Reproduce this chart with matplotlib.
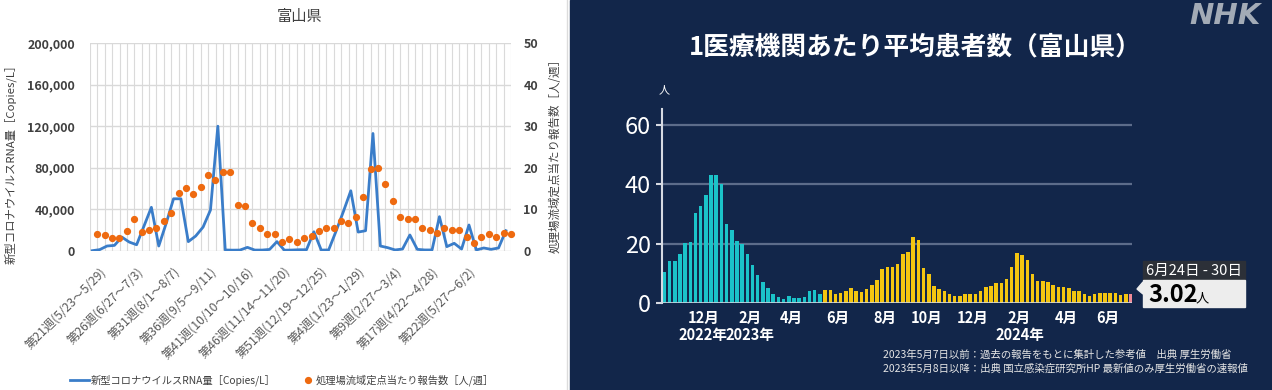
import numpy as np
import pandas as pd
import matplotlib.pyplot as plt
from matplotlib.patches import Rectangle, Polygon

plt.rcParams['font.family'] = ['Noto Sans CJK JP', 'DejaVu Sans']

# ---- left chart: wastewater RNA vs reports per sentinel (weekly) ----
week_labels = ['第21週(5/23～5/29)', '第26週(6/27～7/3)', '第31週(8/1～8/7)',
               '第36週(9/5～9/11)', '第41週(10/10～10/16)', '第46週(11/14～11/20)',
               '第51週(12/19～12/25)', '第4週(1/23～1/29)', '第9週(2/27～3/4)',
               '第17週(4/22～4/28)', '第22週(5/27～6/2)']
rna = [300, 1300, 4800, 5400, 13400, 8600, 6000, 24000, 42000, 4800,
       26500, 50200, 50200, 9000, 14400, 23000, 39400, 120000, 1000, 800,
       900, 3500, 900, 900, 1500, 9000, 800, 900, 1200, 1200,
       18500, 900, 1000, 19000, 38000, 57900, 18200, 19500, 113000, 4800,
       3200, 1000, 1900, 15400, 1600, 1000, 1000, 33000, 4200, 7400,
       1900, 25000, 1000, 2900, 1600, 2900, 19500]
reports = [4.16, 3.92, 3.12, 3.2, 4.8, 7.6, 4.48, 4.96, 5.6, 7.12,
           9.12, 13.84, 15.2, 13.76, 15.5, 18.2, 17.1, 18.96, 18.9, 11.04,
           10.72, 6.8, 5.52, 4.16, 4.16, 2.24, 2.8, 2.16, 3.04, 3.6,
           4.8, 5.52, 5.52, 7.12, 6.8, 8.24, 13.04, 19.6, 20.0, 16.16,
           12.08, 8.08, 7.76, 7.68, 5.6, 5.04, 4.32, 5.52, 5.12, 4.96,
           3.36, 1.84, 3.36, 4.16, 3.44, 4.24, 4.08]

# ---- right chart: patients per medical institution (NHK) ----
week_start = pd.date_range('2022-10-03', '2024-06-24', freq='7D')
patients = [10.3, 14.1, 14.0, 16.4, 20.3, 20.6, 30.2, 32.7, 36.4, 43.2,
            43.3, 40.1, 26.7, 24.7, 20.9, 19.9, 16.6, 12.7, 9.6, 7.2,
            4.9, 3.2, 2.1, 1.3, 2.3, 1.7, 1.7, 2.1, 4.1, 4.5,
            3.2, 4.4, 4.4, 2.9, 3.5, 4.2, 5.0, 4.2, 3.8, 4.8,
            6.1, 7.9, 11.6, 12.0, 12.2, 13.2, 16.6, 17.2, 22.2, 21.1,
            11.8, 9.9, 5.8, 4.6, 4.0, 3.2, 2.3, 2.3, 2.9, 2.9,
            3.2, 4.0, 5.5, 5.7, 6.6, 6.7, 8.0, 12.0, 16.9, 16.2,
            14.4, 9.7, 7.4, 7.4, 7.0, 6.0, 5.3, 5.5, 5.0, 4.1,
            4.0, 3.2, 2.3, 3.0, 3.4, 3.4, 3.4, 3.4, 2.8, 3.2, 3.02]
month_ticks = pd.date_range('2022-12-01', '2024-06-01', freq='2MS')
new_system = pd.Timestamp('2023-05-08')

W, H = 1272, 390
fig = plt.figure(figsize=(W / 100, H / 100), dpi=100)


def box(l, t, r, b):
    return [l / W, 1 - b / H, (r - l) / W, (b - t) / H]


# canvas in pixel coordinates for backgrounds and free text
cv = fig.add_axes([0, 0, 1, 1])
cv.set_xlim(0, W)
cv.set_ylim(H, 0)
cv.axis('off')
navy = '#12264A'
cv.add_patch(Rectangle((570, 0), W - 570, H, color=navy, zorder=0))
cv.plot([567, 567], [0, H], color='#dcdcdc', lw=1)

# ---------- left chart ----------
blue = '#3A7DC9'
orange = '#EE6A10'
ax = fig.add_axes(box(90, 43, 511, 251))
x = np.arange(len(rna))
for g in np.arange(len(rna) + 1) - 0.31:
    ax.axvline(g, color='#dadada', lw=0.8, zorder=0)
ax.plot(x, rna, color=blue, lw=2.0, zorder=3)
ax.set_xlim(-0.31, len(rna) - 0.31)
ax.set_ylim(0, 200000)
ax.set_yticks(range(0, 200001, 40000))
ax.set_yticklabels([f'{v:,}' for v in range(0, 200001, 40000)],
                   fontsize=9, color='#404040', fontweight='bold')
ax.yaxis.grid(True, color='#d9d9d9', lw=1)
ax.set_axisbelow(True)
ax.set_xticks(np.arange(0, len(week_labels) * 5, 5) + 2.2)
ax.set_xticklabels(week_labels, rotation=45, ha='right', fontsize=8.8, color='#595959')
ax.tick_params(axis='x', length=0, pad=10)
ax.tick_params(axis='y', length=0, pad=11)
for s in ax.spines.values():
    s.set_visible(False)
ax.set_ylabel('新型コロナウイルスRNA量［Copies/L］', fontsize=8.2, color='#404040')
ax.yaxis.set_label_coords(-0.175, 0.43)

ax2 = ax.twinx()
ax2.plot(x + 0.68, reports, 'o', color=orange, ms=4.2, clip_on=False, zorder=4)
ax2.set_ylim(0, 50)
ax2.set_yticks(range(0, 51, 10))
ax2.set_yticklabels([str(v) for v in range(0, 51, 10)], fontsize=9, color='#404040',
                    fontweight='bold')
ax2.tick_params(axis='y', length=0, pad=9)
for s in ax2.spines.values():
    s.set_visible(False)
ax2.set_ylabel('処理場流域定点当たり報告数［人/週］', fontsize=8.3, color='#404040')
ax2.yaxis.set_label_coords(1.09, 0.47)

cv.text(300, 17, '富山県', ha='center', va='center', fontsize=11, color='#404040')
cv.plot([70, 89], [380, 380], color=blue, lw=2.0)
cv.text(91, 380, '新型コロナウイルスRNA量［Copies/L］', va='center', fontsize=7.4, color='#404040')
cv.plot([308], [380], 'o', color=orange, ms=4.2)
cv.text(316, 380, '処理場流域定点当たり報告数［人/週］', va='center', fontsize=7.4, color='#404040')

# ---------- right chart ----------
axr = fig.add_axes(box(662, 109, 1132, 303))
axr.patch.set_alpha(0)
idx = np.arange(len(patients))
colors = ['#1BC3C9' if d < new_system else '#F4C510' for d in week_start]
colors[-1] = '#F08A98'
axr.bar(idx, patients, width=0.68, color=colors, zorder=2)
axr.set_xlim(-0.46, len(patients) - 0.8)
axr.set_ylim(0, 65.4)
axr.set_yticks([0, 20, 40, 60])
axr.set_yticklabels(['0', '20', '40', '60'], fontsize=17, color='white')
axr.yaxis.grid(True, color='#5C6C8A', lw=1.6)
axr.set_axisbelow(True)
axr.axhline(0, color='#D6DAE2', lw=1.8, zorder=3)
for k in ['top', 'right', 'bottom']:
    axr.spines[k].set_visible(False)
axr.spines['left'].set_color('#D6DAE2')
axr.spines['left'].set_linewidth(1.5)
axr.tick_params(axis='y', length=4, width=1.5, color='#D6DAE2', pad=4)

first = week_start[0]
mpos = [(d - first).days // 7 - 0.5 for d in month_ticks]
axr.set_xticks(mpos)
axr.set_xticklabels([f'{d.month}月' for d in month_ticks], fontsize=10.5,
                    color='white', fontweight='bold')
axr.tick_params(axis='x', length=0, pad=5)
seen = set()
for p, d in zip(mpos, month_ticks):
    if d.year not in seen:
        seen.add(d.year)
        axr.text(p, -0.165, f'{d.year}年', transform=axr.get_xaxis_transform(),
                 ha='center', va='center', fontsize=10.5, color='white', fontweight='bold')

cv.text(915, 47, '1医療機関あたり平均患者数（富山県）', ha='center', va='center',
        fontsize=18.5, fontweight='bold', color='white')
cv.text(664, 90, '人', ha='center', va='center', fontsize=8, color='white')
cv.text(1225, 16, 'NHK', ha='center', va='center', fontsize=21, fontweight='heavy',
        style='italic', color='#A3ABB6', family='DejaVu Sans')
cv.text(883, 355, '2023年5月7日以前：過去の報告をもとに集計した参考値　出典 厚生労働省',
        va='center', fontsize=7.5, color='#E6E6E6')
cv.text(883, 368, '2023年5月8日以降：出典 国立感染症研究所HP 最新値のみ厚生労働省の速報値',
        va='center', fontsize=7.5, color='#E6E6E6')

# callout for the latest week
last = week_start[-1]
last_end = last + pd.Timedelta(days=6)
cv.add_patch(Rectangle((1143, 261), 102, 19, color='#2C3038', zorder=2))
cv.add_patch(Rectangle((1143, 280), 102, 27, color='#EDEDED', zorder=2))
cv.add_patch(Polygon([(1137, 289), (1143, 282), (1143, 294)], closed=True,
                     color='#EDEDED', zorder=2))
cv.text(1194, 270.5, f'{last.month}月{last.day}日 - {last_end.day}日', ha='center',
        va='center', fontsize=10.5, color='white', zorder=3)
cv.text(1148, 295, f'{patients[-1]:.2f}', ha='left', va='center', fontsize=17,
        fontweight='bold', color='black', zorder=3)
cv.text(1196, 299, '人', ha='left', va='center', fontsize=9.5, color='black', zorder=3)

fig.savefig('out.png', dpi=100)
